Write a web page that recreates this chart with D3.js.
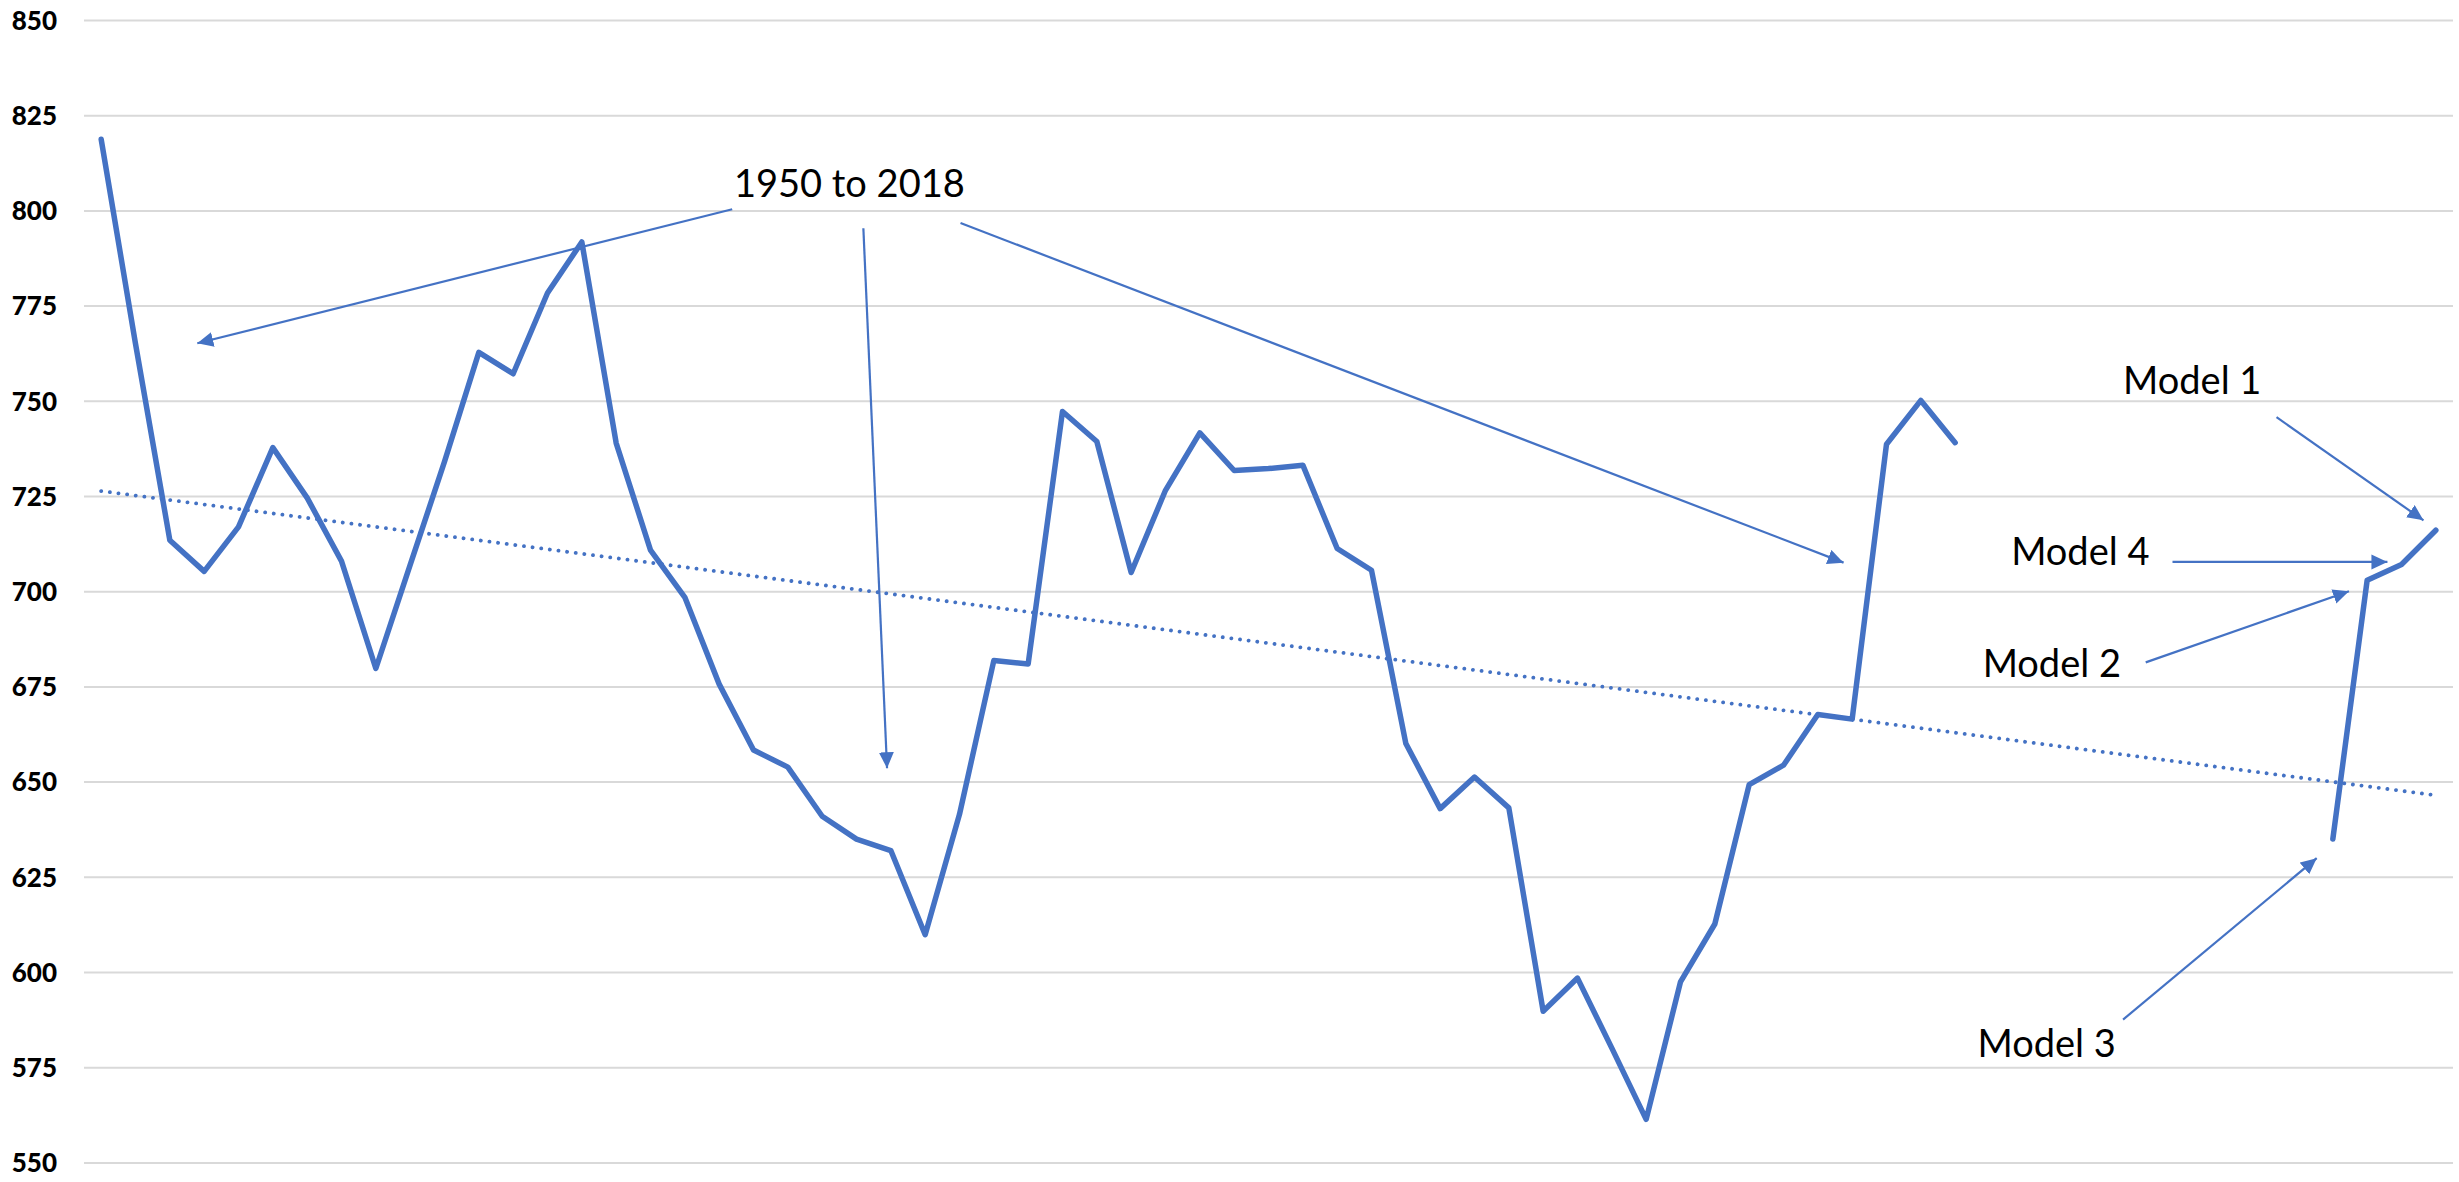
<!DOCTYPE html>
<html>
<head>
<meta charset="utf-8">
<script src="https://cdn.jsdelivr.net/npm/d3@7"></script>
<style>
  html, body { margin: 0; padding: 0; background: #ffffff; }
  svg { display: block; }
</style>
</head>
<body>
<svg id="chart" width="2459" height="1182"></svg>
<script>
// ---------------- DATA ----------------
const categories = [
  1950,1951,1952,1953,1954,1955,1956,1957,1958,1959,
  1960,1961,1962,1963,1964,1965,1966,1967,1968,1969,
  1970,1971,1972,1973,1974,1975,1976,1977,1978,1979,
  1980,1981,1982,1983,1984,1985,1986,1987,1988,1989,
  1990,1991,1992,1993,1994,1995,1996,1997,1998,1999,
  2000,2001,2002,2003,2004,2005,2006,2007,2008,2009,
  2010,2011,2012,2013,2014,2015,2016,2017,2018
];

// observed series (first 55 categories)
const history = [
  818.7, 765.0, 713.4, 705.2, 716.9, 737.7, 724.5, 707.9, 679.7, 706.9,
  734.0, 762.7, 757.1, 778.3, 791.7, 738.9, 710.8, 698.4, 675.6, 658.3,
  653.8, 640.9, 634.9, 631.9, 609.8, 641.4, 681.8, 680.9, 747.2, 739.3,
  704.9, 726.5, 741.6, 731.7, 732.2, 733.1, 711.2, 705.5, 660.0, 642.9,
  651.2, 643.1, 589.7, 598.4, 580.0, 561.3, 597.4, 612.6, 649.2, 654.3,
  667.6, 666.4, 738.6, 750.1, 739.0
];

// model results (last 4 categories)
const modelLabels = ["Model 3", "Model 2", "Model 4", "Model 1"];
const modelValues = [634.9, 702.9, 707.0, 716.0];

// dotted linear trendline: value at first and last category
const trendEnds = [726.3, 646.4];

const yTicks = [550, 575, 600, 625, 650, 675, 700, 725, 750, 775, 800, 825, 850];

// annotation texts, anchored in data space [category index, value]
const noteTexts = ["1950 to 2018", "Model 1", "Model 4", "Model 2", "Model 3"];
const noteAnchors = [[18.43, 803.5], [58.89, 751.7], [55.63, 706.8], [54.80, 677.5], [54.65, 577.6]];

// annotation arrows in data space: [from, to]
const arrowLines = [
  [[18.38, 800.3], [2.80, 765.1]],
  [[22.20, 795.3], [22.89, 653.5]],
  [[25.03, 796.7], [50.75, 707.5]],
  [[63.36, 745.7], [67.64, 718.6]],
  [[60.33, 707.7], [66.59, 707.7]],
  [[59.55, 681.3], [65.47, 700.0]],
  [[58.89, 587.5], [64.53, 629.9]]
];

// ---------------- CHART ----------------
const N = categories.length;
const plot = { left: 84, right: 2453, top: 20, bottom: 1162.4 };
const blue = "#4472C4";

const svg = d3.select("#chart");
svg.append("rect").attr("width", 2459).attr("height", 1182).attr("fill", "#ffffff");

const x = d3.scaleLinear().domain([-0.5, N - 0.5]).range([plot.left, plot.right]);
const y = d3.scaleLinear().domain([550, 850]).range([plot.bottom, plot.top]);

// build the combined series with a gap
const series = categories.map((c, i) => {
  let v = null;
  if (i < history.length) v = history[i];
  else if (i >= N - modelValues.length) v = modelValues[i - (N - modelValues.length)];
  return { i, c, v };
});

// gridlines + y labels
const yAxis = d3.axisLeft(y)
  .tickValues(yTicks)
  .tickSize(-(plot.right - plot.left))
  .tickPadding(27)
  .tickFormat(d3.format("d"));

const gy = svg.append("g")
  .attr("transform", `translate(${plot.left},0)`)
  .call(yAxis);
gy.select(".domain").remove();
gy.selectAll(".tick line").attr("stroke", "#d9d9d9").attr("stroke-width", 2);
gy.selectAll(".tick text")
  .attr("fill", "#000")
  .attr("dy", "0.36em")
  .style("font-family", "Lato, 'Open Sans', sans-serif")
  .style("font-weight", "900")
  .style("font-size", "26px");

// main line
const line = d3.line()
  .defined(d => d.v != null)
  .x(d => x(d.i))
  .y(d => y(d.v));

svg.append("path")
  .datum(series)
  .attr("d", line)
  .attr("fill", "none")
  .attr("stroke", blue)
  .attr("stroke-width", 5.5)
  .attr("stroke-linejoin", "round")
  .attr("stroke-linecap", "round");

// trendline
const trendData = [{ i: 0, v: trendEnds[0] }, { i: N - 1, v: trendEnds[1] }];
svg.append("path")
  .datum(trendData)
  .attr("d", d3.line().x(d => x(d.i)).y(d => y(d.v)))
  .attr("fill", "none")
  .attr("stroke", blue)
  .attr("stroke-width", 3.8)
  .attr("stroke-linecap", "round")
  .attr("stroke-dasharray", "0.1 8.6");

// arrow marker
svg.append("defs").append("marker")
  .attr("id", "ah")
  .attr("markerUnits", "userSpaceOnUse")
  .attr("markerWidth", 17)
  .attr("markerHeight", 17)
  .attr("refX", 16)
  .attr("refY", 7.5)
  .attr("orient", "auto")
  .append("path")
  .attr("d", "M0,0 L16,7.5 L0,15 Z")
  .attr("fill", blue);

svg.append("g").selectAll("line")
  .data(arrowLines)
  .join("line")
  .attr("x1", d => x(d[0][0]))
  .attr("y1", d => y(d[0][1]))
  .attr("x2", d => x(d[1][0]))
  .attr("y2", d => y(d[1][1]))
  .attr("stroke", blue)
  .attr("stroke-width", 2.2)
  .attr("marker-end", "url(#ah)");

// annotation texts
svg.append("g").selectAll("text")
  .data(noteTexts.map((t, k) => ({ t, a: noteAnchors[k] })))
  .join("text")
  .attr("x", d => x(d.a[0]))
  .attr("y", d => y(d.a[1]))
  .attr("fill", "#000")
  .style("font-family", "Lato, 'Open Sans', sans-serif")
  .style("font-size", "38px")
  .text(d => d.t);
</script>
</body>
</html>
